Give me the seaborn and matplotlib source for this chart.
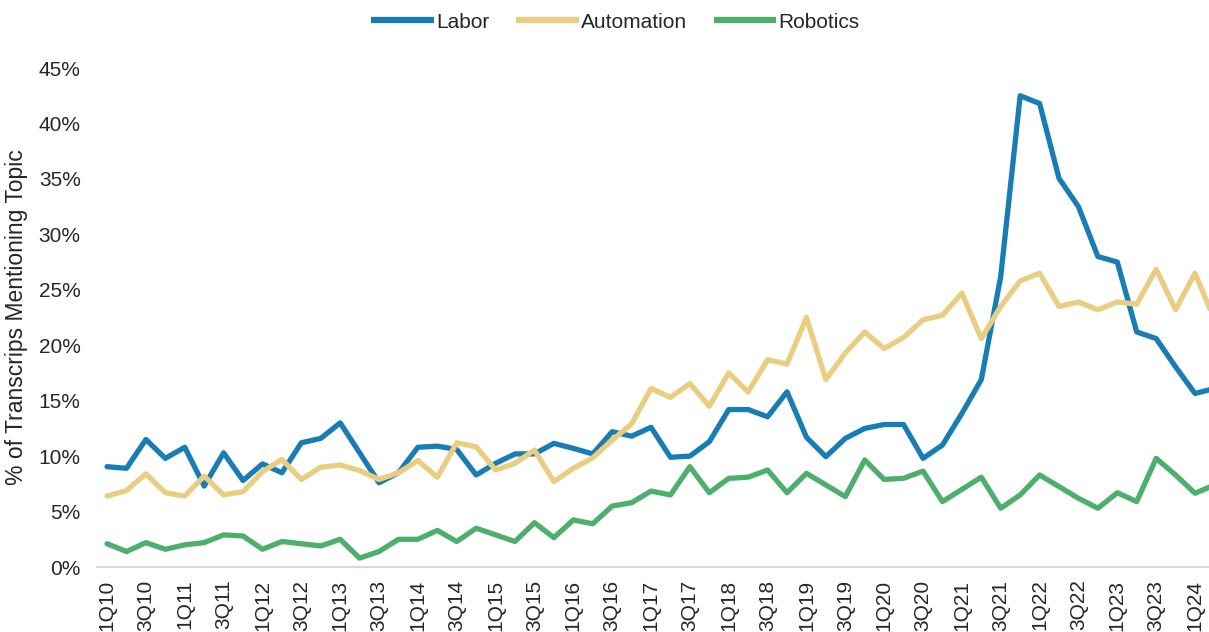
import numpy as np
import pandas as pd
import seaborn as sns
import matplotlib.pyplot as plt

quarters = ["%dQ%02d" % (q, y) for y in range(10, 25) for q in range(1, 5)][:58]

labor = [9.05, 8.9, 11.5, 9.8, 10.8, 7.3, 10.3, 7.8, 9.3, 8.5,
         11.2, 11.6, 13.0, 10.3, 7.6, 8.5, 10.8, 10.9, 10.6, 8.3,
         9.35, 10.2, 10.2, 11.15, 10.7, 10.2, 12.2, 11.8, 12.6, 9.9,
         10.0, 11.3, 14.2, 14.2, 13.55, 15.8, 11.7, 9.95, 11.6, 12.5,
         12.85, 12.85, 9.8, 11.0, 13.85, 16.9, 26.2, 42.5, 41.8, 35.05,
         32.5, 28.0, 27.5, 21.2, 20.6, 18.05, 15.65, 16.1]
automation = [6.4, 6.9, 8.4, 6.7, 6.4, 8.2, 6.5, 6.8, 8.6, 9.7,
              7.9, 9.0, 9.2, 8.7, 7.9, 8.5, 9.6, 8.1, 11.2, 10.85,
              8.75, 9.35, 10.55, 7.7, 8.9, 9.85, 11.45, 12.9, 16.1, 15.3,
              16.55, 14.5, 17.5, 15.8, 18.7, 18.3, 22.5, 16.9, 19.3, 21.2,
              19.7, 20.7, 22.3, 22.7, 24.7, 20.6, 23.5, 25.8, 26.5, 23.5,
              23.9, 23.2, 23.9, 23.7, 26.85, 23.2, 26.5, 22.3]
robotics = [2.1, 1.4, 2.2, 1.6, 2.0, 2.2, 2.9, 2.8, 1.6, 2.3,
            2.1, 1.9, 2.5, 0.8, 1.4, 2.5, 2.5, 3.3, 2.3, 3.5,
            2.9, 2.3, 4.0, 2.65, 4.25, 3.9, 5.5, 5.8, 6.85, 6.5,
            9.05, 6.7, 8.0, 8.1, 8.75, 6.7, 8.45, 7.4, 6.35, 9.65,
            7.9, 8.0, 8.65, 5.9, 7.0, 8.1, 5.3, 6.5, 8.3, 7.25,
            6.2, 5.3, 6.7, 5.9, 9.8, 8.3, 6.65, 7.4]

topics = ["Labor", "Automation", "Robotics"]
colors = ["#177db4", "#e9cd80", "#4caf6b"]

rows = []
for name, vals in zip(topics, [labor, automation, robotics]):
    for i, v in enumerate(vals):
        rows.append({"idx": i, "quarter": quarters[i], "Topic": name, "value": v})
df = pd.DataFrame(rows)

sns.set_style("white")
plt.rcParams['font.family'] = ['Liberation Sans', 'DejaVu Sans']

fig = plt.figure(figsize=(12.09, 6.32), dpi=100)
ax = fig.add_axes([0.0805, 0.1028, 0.9195, 0.7896])

sns.lineplot(data=df, x="idx", y="value", hue="Topic", palette=colors,
             hue_order=topics, linewidth=3.8, ax=ax, legend=False)

ax.set_xlim(-0.5, 56.72)
ax.set_ylim(0, 45)
ax.set_yticks(np.arange(0, 46, 5))
ax.set_yticklabels(["%d%%" % v for v in range(0, 46, 5)], fontsize=15)
ax.set_xticks(range(0, 58, 2))
ax.set_xticklabels(quarters[::2], rotation=90, fontsize=15)
ax.tick_params(axis='y', length=0, pad=12)
ax.tick_params(axis='x', length=0, pad=9)
ax.set_xlabel("")
ax.set_ylabel("% of Transcrips Mentioning Topic", fontsize=16.5, labelpad=8)

for s in ["top", "right", "left"]:
    ax.spines[s].set_visible(False)
ax.spines["bottom"].set_color("#d9d9d9")
ax.spines["bottom"].set_linewidth(1.5)
ax.grid(False)

handles = [plt.Line2D([], [], color=c, linewidth=4.5, solid_capstyle="butt") for c in colors]
fig.legend(handles, topics, loc="center", bbox_to_anchor=(0.509, 0.965), ncol=3,
           frameon=False, fontsize=15, handlelength=3.0, handletextpad=0.1,
           columnspacing=1.3)

fig.savefig("out.png", dpi=100)
